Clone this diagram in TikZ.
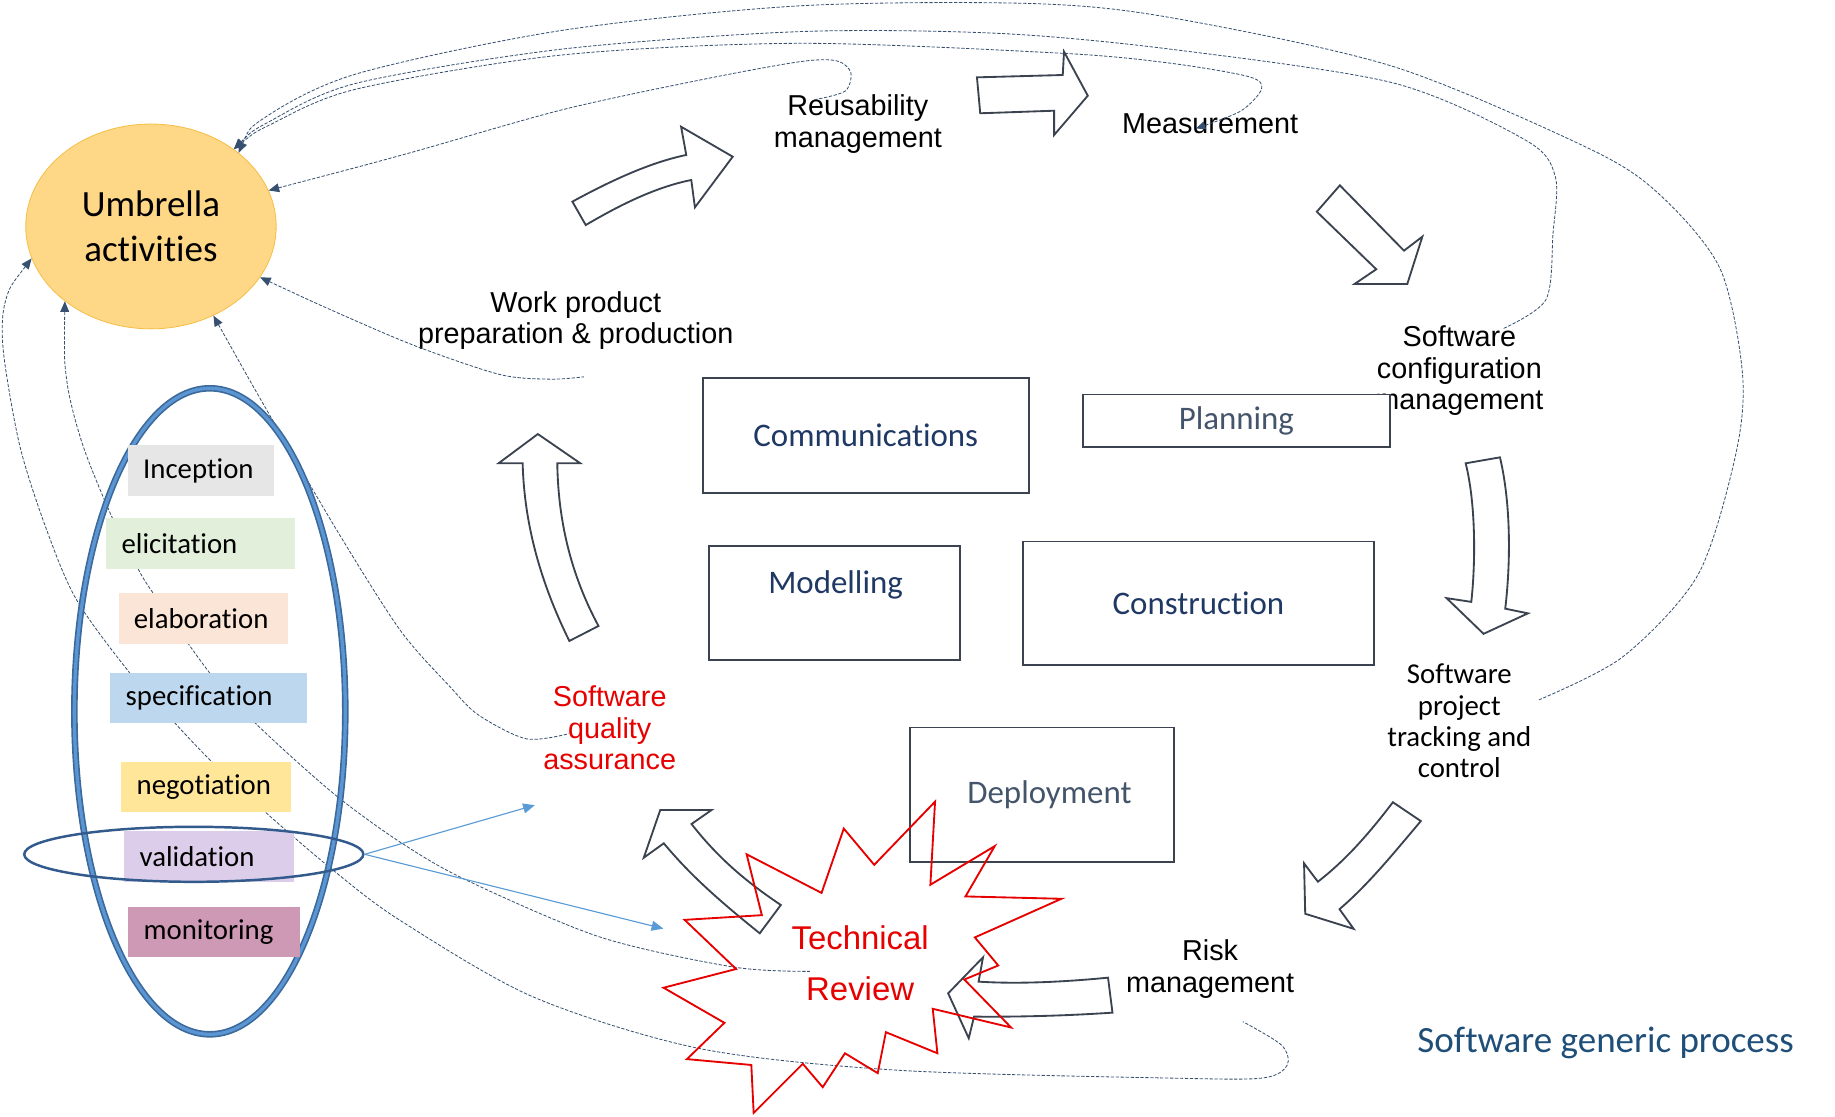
\documentclass[tikz,border=0pt]{standalone}
\usepackage{fontspec}
\usepackage{tikz}
\usetikzlibrary{arrows.meta, shapes.geometric}

\newfontfamily\arialfont{Liberation Sans}
\newfontfamily\califont[Ligatures=NoCommon]{Carlito}

\definecolor{dashline}{RGB}{55,80,112}
\definecolor{boxline}{RGB}{59,67,80}
\definecolor{navy}{RGB}{31,56,100}
\definecolor{slate}{RGB}{68,84,106}
\definecolor{ringdark}{RGB}{60,105,155}
\definecolor{ringlight}{RGB}{91,150,210}
\definecolor{valring}{RGB}{50,90,140}
\definecolor{arrowblue}{RGB}{91,155,213}
\definecolor{alarmred}{RGB}{230,0,0}
\definecolor{umbfill}{RGB}{255,216,135}
\definecolor{umbline}{RGB}{245,190,70}
\definecolor{titleblue}{RGB}{31,78,121}
\definecolor{cincep}{RGB}{231,230,230}
\definecolor{celicit}{RGB}{226,239,218}
\definecolor{celab}{RGB}{251,229,214}
\definecolor{cspec}{RGB}{189,215,238}
\definecolor{cnego}{RGB}{255,230,153}
\definecolor{cvalid}{RGB}{220,206,234}
\definecolor{cmonit}{RGB}{205,153,180}

\begin{document}
\begin{tikzpicture}[x=0.2mm, y=-0.2mm,
		dline/.style={draw=dashline, line width=0.4pt, dash pattern=on 1.6pt off 0.8pt},
		intoumb/.style={arrows={Triangle[length=1.8mm, width=1.5mm]-}},
		bothtips/.style={arrows={Triangle[length=1.8mm, width=1.5mm]-Triangle[length=1.6mm, width=1.4mm]}},
		blu/.style={draw=arrowblue, line width=0.55pt, arrows={-Triangle[length=2mm, width=1.7mm]}},
		atxt/.style={align=center, font=\arialfont\fontsize{14}{15.3}\selectfont},
		lbl/.style={anchor=west, inner xsep=2.6mm, inner ysep=0pt, minimum height=8.6mm, align=left, font=\califont\fontsize{14}{16}\selectfont},
		box/.style={draw=boxline, line width=0.9pt, fill=white, inner sep=0pt, text=navy, font=\califont\fontsize{16}{19}\selectfont},
		fat/.style={draw=boxline, line width=0.9pt, line join=miter},
		burst/.style={draw=alarmred, line width=0.9pt, line join=miter}
	]
		\useasboundingbox (0,0) rectangle (1568,954);

		\node[ellipse, draw=umbline, fill=umbfill, minimum width=42.8mm, minimum height=35mm, inner sep=0pt, align=center, font=\califont\fontsize{18}{22.2}\selectfont] (umb) at (129,193.5) {Umbrella\\activities};

		\node[atxt] (reuse) at (733,106) {Reusability\\management};
		\node[atxt] (msr) at (1034,106) {Measurement};
		\node[atxt] (wpp) at (492,274) {Work product\\preparation \& production};
		\node[atxt] (scm) at (1247,317) {Software\\configuration\\management};
		\node[atxt, text=alarmred] (sqa) at (521,622) {Software\\quality\\assurance};
		\node[atxt] (risk) at (1034,828) {Risk\\management};
		\node[align=center, font=\califont\fontsize{14}{15.2}\selectfont] (sptc) at (1247,616) {Software\\project\\tracking and\\control};
		\node[align=center, text=alarmred, font=\arialfont\fontsize{16}{24.4}\selectfont] (trev) at (735,823) {Technical\\Review};
		\node[text=titleblue, font=\califont\fontsize{18}{22}\selectfont] (title) at (1372,891) {Software generic process};

		\coordinate (a1) at (1062,873);
		\coordinate (b1) at (692,830);
		\coordinate (c1) at (486,627);
		\coordinate (w1) at (499,322);
		\coordinate (r1) at (695,85.4);
		\coordinate (t1) at (1315,598);
		\coordinate (g1) at (1284,281);
		\coordinate (m1) at (1022,109.7);

		\draw[dline, intoumb] plot[smooth] coordinates {(umb.195) (5,256) (2.8,299.4) (17.1,381.7) (39.9,452.9) (65.5,512.7) (111.1,575.3) (151,619.5) (180.9,650.8) (227.9,695) (284.8,743.7) (341.8,786.4) (455.7,851.9) (598,896) (769,914.6) (1009,921.4) (1080,921) (1100,910) (1095,893) (a1)};

		\draw[dline, intoumb] plot[smooth] coordinates {(umb.221) (57,324.8) (71.2,381.7) (96.8,444.4) (118.2,486.5) (131,507) (179.4,575.3) (219.3,619) (284.8,677.9) (341.8,719.5) (398.8,752.2) (512.7,800.7) (626.6,826.3) (b1)};

		\draw[dline, intoumb] plot[smooth] coordinates {(umb.305) (227.9,350.3) (287.7,452.9) (341.8,538.3) (384.5,586.8) (408.9,611) (449.7,631.3) (c1)};

		\draw[dline, intoumb] plot[smooth] coordinates {(umb.335) (290,268) (356,296) (427,320) (470,324) (w1)};

		\draw[dline, intoumb] plot[smooth] coordinates {(umb.17) (348.8,131) (479.6,94) (600,68) (683.6,52.7) (715,52) (727,62) (722,78) (r1)};

		\draw[dline, intoumb] plot[smooth] coordinates {(umb.40) (227,100) (305,63) (480,26) (683,5) (881,3) (1000,15) (1191,57) (1360,128) (1420,168) (1470,230) (1489,320) (1483,389) (1451,491) (1387,561) (t1)};

		\draw[dline, intoumb] plot[smooth] coordinates {(umb.43) (230,104) (305,71) (480,42) (683.6,27) (853,28.5) (1000,42) (1191,71) (1304,120) (1329,151) (1327,200) (1321,256) (g1)};

		\draw[dline, bothtips] plot[smooth] coordinates {(umb.43) (232,106) (305,76) (480,47) (683.6,37) (909,45.6) (1000,54) (1067,65.5) (1078,76) (1060,95) (m1)};

		\node[ellipse, draw=ringdark, line width=3.2pt, minimum width=46.3mm, minimum height=110.4mm, inner sep=0pt] (req) at (179.3,607.8) {};
		\draw[ringlight, line width=1.6pt] (req.center) ellipse [x radius=23.15mm, y radius=55.2mm];

		\node[lbl, fill=cincep, text width=19.8mm] (incep) at (109,402) {Inception};
		\node[lbl, fill=celicit, text width=27.1mm] (elicit) at (90.6,464.3) {elicitation};
		\node[lbl, fill=celab, text width=23.8mm] (elab) at (101,528.4) {elaboration};
		\node[lbl, fill=cspec, text width=28.4mm] (spec) at (94,596.7) {specification};
		\node[lbl, fill=cnego, text width=23.8mm] (nego) at (103.4,672.5) {negotiation};
		\node[lbl, fill=cvalid, text width=23.8mm] (valid) at (106,732) {validation};
		\node[lbl, fill=cmonit, text width=24.2mm] (monit) at (109.4,796.4) {monitoring};

		\node[ellipse, draw=valring, line width=1.2pt, minimum width=57.96mm, minimum height=9.4mm, inner sep=0pt] (vring) at (165.6,730) {};

		\coordinate (sqaend) at (457,688);
		\coordinate (trevend) at (566.8,793.5);
		\draw[blu] (vring.east) -- (sqaend);
		\draw[blu] (vring.east) -- (trevend);

		\node[box, minimum width=55.7mm, minimum height=19.7mm] (comm) at (739.8,371.9) {Communications};
		\node[box, text=slate, minimum width=52.5mm, minimum height=9mm] (plan) at (1056.5,359.6) {Planning};
		\node[box, minimum width=42.9mm, minimum height=19.5mm] (mdl) at (713.4,515.2) {};
		\node[text=navy, font=\califont\fontsize{16}{19}\selectfont] (mdltxt) at (714,500) {Modelling};
		\node[box, minimum width=60.1mm, minimum height=21.1mm] (cons) at (1024.1,515.5) {Construction};
		\node[box, text=slate, minimum width=45mm, minimum height=23mm, text width=30.6mm, align=right] (depl) at (890.4,679.2) {Deployment};

		\draw[fat] (489.1,172.3) .. controls (530,150) and (560,138) .. (586.4,132.4) -- (582,108.3) -- (626.1,133.9) -- (593.8,177.2) -- (590.7,153.8) .. controls (560,160) and (530,175) .. (500.5,192.3) -- cycle;

		\draw[fat] (834.8,66.1) -- (908.1,64.1) -- (909.2,44.2) -- (929.5,81.8) -- (900.7,115.4) -- (900.7,94.6) -- (837.6,96.8) -- cycle;

		\draw[fat] (1144.9,158.4) -- (1199.7,214.2) -- (1215.4,202.2) -- (1202.5,242.7) -- (1157.4,242.7) -- (1176,230.1) -- (1125.2,180.9) -- cycle;

		\draw[fat] (1252.4,395.9) -- (1281.7,390.8) .. controls (1291,430) and (1291,480) .. (1286.2,520.1) -- (1305.6,524.1) -- (1267.7,541.6) -- (1236.1,511.1) -- (1257.2,514.3) .. controls (1261,480) and (1261,430) .. (1252.4,395.9) -- cycle;

		\draw[fat] (1190.2,685.5) -- (1214.1,701.6) .. controls (1190,730) and (1170,755) .. (1144.6,776.9) -- (1156.7,793.7) -- (1115.3,780.8) -- (1114.3,737.7) -- (1126.1,753.4) .. controls (1150,735) and (1170,712) .. (1190.2,685.5) -- cycle;

		\draw[fat] (946.8,835.4) -- (950.6,865.3) .. controls (910,868) and (870,869) .. (832.3,868.7) -- (827.8,887.2) -- (810.2,848.8) -- (840,818) -- (836.2,838.8) .. controls (870,841) and (910,839) .. (946.8,835.4) -- cycle;

		\draw[fat] (564.2,692.1) -- (608.1,692.1) -- (590.9,704.1) .. controls (615,735) and (640,755) .. (667.2,773.3) -- (649.2,797.5) .. controls (615,770) and (590,748) .. (567.2,720.6) -- (550.1,732.9) -- cycle;

		\draw[fat] (459.6,370.9) -- (495.9,395.9) -- (476.2,395.9) .. controls (477,450) and (490,495) .. (511.4,534.9) -- (486.5,547.7) .. controls (463,500) and (448,450) .. (446.6,395.9) -- (426,395.9) -- cycle;

		\draw[burst] (799,685) -- (795,756) -- (850,723) -- (825,766) -- (907,768) -- (833,801) -- (853,825) -- (824,837) -- (864,878) -- (797,862) -- (801,900) -- (757,882) -- (750,917) -- (722,900) -- (703,929) -- (686,909) -- (644,951) -- (642,910) -- (587,905) -- (619,874) -- (567,844) -- (629,828) -- (585,786) -- (651,782) -- (638,730) -- (702,763) -- (721,708) -- (747,739) -- cycle;
	\end{tikzpicture}
\end{document}
